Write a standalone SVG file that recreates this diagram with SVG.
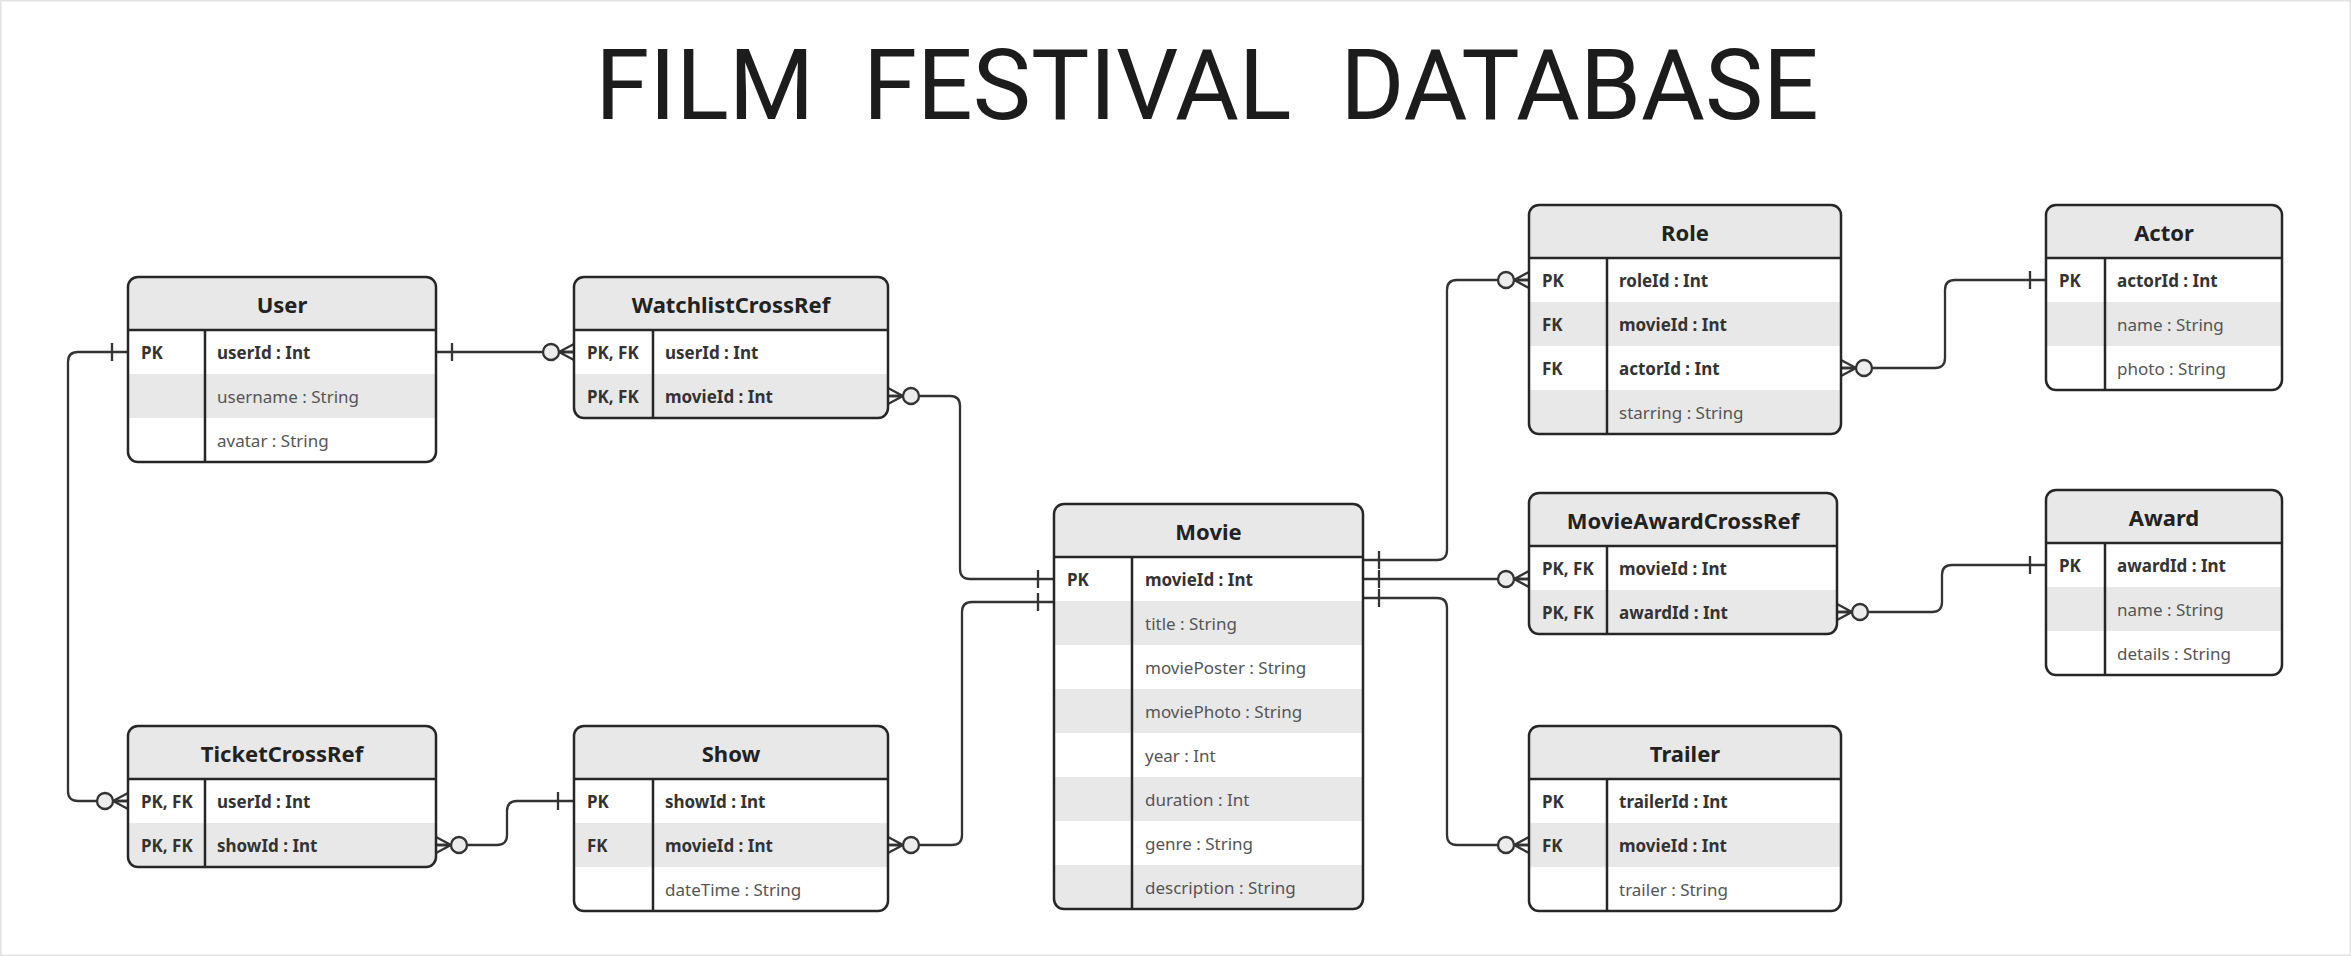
<svg xmlns="http://www.w3.org/2000/svg" xmlns:xlink="http://www.w3.org/1999/xlink" width="2351" height="956" viewBox="0 0 2351 956">
<style>
.bg{fill:#ffffff;stroke:#e2e2e2;stroke-width:1.5}
.body{fill:#ffffff}
.hdr{fill:#e8e8e8}
.alt{fill:#e8e8e8}
.outline{fill:none;stroke:#262626;stroke-width:2.5}
.sep{stroke:#262626;stroke-width:2.5}
.title{font-family:Roboto,"Liberation Sans",sans-serif;font-size:98px;fill:#1c1c1c;text-anchor:middle;white-space:pre}
.ename{font-family:"Noto Sans","Open Sans",sans-serif;font-weight:700;font-size:22px;fill:#222;text-anchor:middle}
.key{font-family:"Noto Sans","Open Sans",sans-serif;font-weight:700;font-size:17px;fill:#333}
.fld{font-family:"Noto Sans","Open Sans",sans-serif;font-weight:400;font-size:17px;fill:#555}
.conn{fill:none;stroke:#333;stroke-width:2.3}
.end{fill:none;stroke:#333;stroke-width:2.3}
.end circle{fill:#ececec}
</style>
<defs>
<g id="zm" class="end"><path d="M-15,0 L0,-8 M-15,0 L0,8 M-15,0 L0,0"/><circle cx="-23" cy="0" r="8"/></g>
<path id="bar" class="end" d="M0,-9 V9"/>
</defs>
<rect class="bg" x="0.75" y="0.75" width="2349.5" height="954.5"/>
<text class="title" x="1207" y="119" xml:space="preserve">FILM  FESTIVAL  DATABASE</text>

<g id="connectors">
<path class="conn" d="M436,352 H574"/>
<path class="conn" d="M128,352 H78 Q68,352 68,362 V791 Q68,801 78,801 H128"/>
<path class="conn" d="M888,396 H950 Q960,396 960,406 V569 Q960,579 970,579 H1054"/>
<path class="conn" d="M888,845 H952 Q962,845 962,835 V612 Q962,602 972,602 H1054"/>
<path class="conn" d="M436,845 H497 Q507,845 507,835 V811 Q507,801 517,801 H574"/>
<path class="conn" d="M1363,560 H1437 Q1447,560 1447,550 V290 Q1447,280 1457,280 H1529"/>
<path class="conn" d="M1363,579 H1529"/>
<path class="conn" d="M1363,598 H1437 Q1447,598 1447,608 V835 Q1447,845 1457,845 H1529"/>
<path class="conn" d="M1841,368 H1935 Q1945,368 1945,358 V290 Q1945,280 1955,280 H2046"/>
<path class="conn" d="M1837,612 H1932 Q1942,612 1942,602 V575 Q1942,565 1952,565 H2046"/>
<use href="#bar" x="452" y="352"/>
<use href="#zm" x="574" y="352"/>
<use href="#bar" x="112" y="352"/>
<use href="#zm" x="128" y="801"/>
<use href="#zm" transform="translate(888,396) scale(-1,1)"/>
<use href="#bar" x="1038" y="579"/>
<use href="#zm" transform="translate(888,845) scale(-1,1)"/>
<use href="#bar" x="1038" y="602"/>
<use href="#zm" transform="translate(436,845) scale(-1,1)"/>
<use href="#bar" x="558" y="801"/>
<use href="#bar" x="1379" y="560"/>
<use href="#bar" x="1379" y="579"/>
<use href="#bar" x="1379" y="598"/>
<use href="#zm" x="1529" y="280"/>
<use href="#zm" x="1529" y="579"/>
<use href="#zm" x="1529" y="845"/>
<use href="#zm" transform="translate(1841,368) scale(-1,1)"/>
<use href="#bar" x="2030" y="280"/>
<use href="#zm" transform="translate(1837,612) scale(-1,1)"/>
<use href="#bar" x="2030" y="565"/>
</g>

<g id="user">
<rect class="body" x="128" y="277" width="308" height="185" rx="10"/>
<path class="hdr" d="M128,330 V287 Q128,277 138,277 H426 Q436,277 436,287 V330 Z"/>
<rect class="alt" x="128" y="374" width="308" height="44"/>
<rect class="outline" x="128" y="277" width="308" height="185" rx="10"/>
<line class="sep" x1="128" y1="330" x2="436" y2="330"/>
<line class="sep" x1="205" y1="330" x2="205" y2="462"/>
<text class="ename" x="282" y="312.5">User</text>
<text class="key" x="141" y="359">PK</text>
<text class="key" x="217" y="359">userId : Int</text>
<text class="fld" x="217" y="403">username : String</text>
<text class="fld" x="217" y="447">avatar : String</text>
</g>

<g id="watchlistcrossref">
<rect class="body" x="574" y="277" width="314" height="141" rx="10"/>
<path class="hdr" d="M574,330 V287 Q574,277 584,277 H878 Q888,277 888,287 V330 Z"/>
<path class="alt" d="M574,374 H888 V408 Q888,418 878,418 H584 Q574,418 574,408 Z"/>
<rect class="outline" x="574" y="277" width="314" height="141" rx="10"/>
<line class="sep" x1="574" y1="330" x2="888" y2="330"/>
<line class="sep" x1="653" y1="330" x2="653" y2="418"/>
<text class="ename" x="731" y="312.5">WatchlistCrossRef</text>
<text class="key" x="587" y="359">PK, FK</text>
<text class="key" x="665" y="359">userId : Int</text>
<text class="key" x="587" y="403">PK, FK</text>
<text class="key" x="665" y="403">movieId : Int</text>
</g>

<g id="ticketcrossref">
<rect class="body" x="128" y="726" width="308" height="141" rx="10"/>
<path class="hdr" d="M128,779 V736 Q128,726 138,726 H426 Q436,726 436,736 V779 Z"/>
<path class="alt" d="M128,823 H436 V857 Q436,867 426,867 H138 Q128,867 128,857 Z"/>
<rect class="outline" x="128" y="726" width="308" height="141" rx="10"/>
<line class="sep" x1="128" y1="779" x2="436" y2="779"/>
<line class="sep" x1="205" y1="779" x2="205" y2="867"/>
<text class="ename" x="282" y="761.5">TicketCrossRef</text>
<text class="key" x="141" y="808">PK, FK</text>
<text class="key" x="217" y="808">userId : Int</text>
<text class="key" x="141" y="852">PK, FK</text>
<text class="key" x="217" y="852">showId : Int</text>
</g>

<g id="show">
<rect class="body" x="574" y="726" width="314" height="185" rx="10"/>
<path class="hdr" d="M574,779 V736 Q574,726 584,726 H878 Q888,726 888,736 V779 Z"/>
<rect class="alt" x="574" y="823" width="314" height="44"/>
<rect class="outline" x="574" y="726" width="314" height="185" rx="10"/>
<line class="sep" x1="574" y1="779" x2="888" y2="779"/>
<line class="sep" x1="653" y1="779" x2="653" y2="911"/>
<text class="ename" x="731" y="761.5">Show</text>
<text class="key" x="587" y="808">PK</text>
<text class="key" x="665" y="808">showId : Int</text>
<text class="key" x="587" y="852">FK</text>
<text class="key" x="665" y="852">movieId : Int</text>
<text class="fld" x="665" y="896">dateTime : String</text>
</g>

<g id="movie">
<rect class="body" x="1054" y="504" width="309" height="405" rx="10"/>
<path class="hdr" d="M1054,557 V514 Q1054,504 1064,504 H1353 Q1363,504 1363,514 V557 Z"/>
<rect class="alt" x="1054" y="601" width="309" height="44"/>
<rect class="alt" x="1054" y="689" width="309" height="44"/>
<rect class="alt" x="1054" y="777" width="309" height="44"/>
<path class="alt" d="M1054,865 H1363 V899 Q1363,909 1353,909 H1064 Q1054,909 1054,899 Z"/>
<rect class="outline" x="1054" y="504" width="309" height="405" rx="10"/>
<line class="sep" x1="1054" y1="557" x2="1363" y2="557"/>
<line class="sep" x1="1132" y1="557" x2="1132" y2="909"/>
<text class="ename" x="1208.5" y="539.5">Movie</text>
<text class="key" x="1067" y="586">PK</text>
<text class="key" x="1145" y="586">movieId : Int</text>
<text class="fld" x="1145" y="630">title : String</text>
<text class="fld" x="1145" y="674">moviePoster : String</text>
<text class="fld" x="1145" y="718">moviePhoto : String</text>
<text class="fld" x="1145" y="762">year : Int</text>
<text class="fld" x="1145" y="806">duration : Int</text>
<text class="fld" x="1145" y="850">genre : String</text>
<text class="fld" x="1145" y="894">description : String</text>
</g>

<g id="role">
<rect class="body" x="1529" y="205" width="312" height="229" rx="10"/>
<path class="hdr" d="M1529,258 V215 Q1529,205 1539,205 H1831 Q1841,205 1841,215 V258 Z"/>
<rect class="alt" x="1529" y="302" width="312" height="44"/>
<path class="alt" d="M1529,390 H1841 V424 Q1841,434 1831,434 H1539 Q1529,434 1529,424 Z"/>
<rect class="outline" x="1529" y="205" width="312" height="229" rx="10"/>
<line class="sep" x1="1529" y1="258" x2="1841" y2="258"/>
<line class="sep" x1="1607" y1="258" x2="1607" y2="434"/>
<text class="ename" x="1685" y="240.5">Role</text>
<text class="key" x="1542" y="287">PK</text>
<text class="key" x="1619" y="287">roleId : Int</text>
<text class="key" x="1542" y="331">FK</text>
<text class="key" x="1619" y="331">movieId : Int</text>
<text class="key" x="1542" y="375">FK</text>
<text class="key" x="1619" y="375">actorId : Int</text>
<text class="fld" x="1619" y="419">starring : String</text>
</g>

<g id="actor">
<rect class="body" x="2046" y="205" width="236" height="185" rx="10"/>
<path class="hdr" d="M2046,258 V215 Q2046,205 2056,205 H2272 Q2282,205 2282,215 V258 Z"/>
<rect class="alt" x="2046" y="302" width="236" height="44"/>
<rect class="outline" x="2046" y="205" width="236" height="185" rx="10"/>
<line class="sep" x1="2046" y1="258" x2="2282" y2="258"/>
<line class="sep" x1="2105" y1="258" x2="2105" y2="390"/>
<text class="ename" x="2164" y="240.5">Actor</text>
<text class="key" x="2059" y="287">PK</text>
<text class="key" x="2117" y="287">actorId : Int</text>
<text class="fld" x="2117" y="331">name : String</text>
<text class="fld" x="2117" y="375">photo : String</text>
</g>

<g id="movieawardcrossref">
<rect class="body" x="1529" y="493" width="308" height="141" rx="10"/>
<path class="hdr" d="M1529,546 V503 Q1529,493 1539,493 H1827 Q1837,493 1837,503 V546 Z"/>
<path class="alt" d="M1529,590 H1837 V624 Q1837,634 1827,634 H1539 Q1529,634 1529,624 Z"/>
<rect class="outline" x="1529" y="493" width="308" height="141" rx="10"/>
<line class="sep" x1="1529" y1="546" x2="1837" y2="546"/>
<line class="sep" x1="1607" y1="546" x2="1607" y2="634"/>
<text class="ename" x="1683" y="528.5">MovieAwardCrossRef</text>
<text class="key" x="1542" y="575">PK, FK</text>
<text class="key" x="1619" y="575">movieId : Int</text>
<text class="key" x="1542" y="619">PK, FK</text>
<text class="key" x="1619" y="619">awardId : Int</text>
</g>

<g id="award">
<rect class="body" x="2046" y="490" width="236" height="185" rx="10"/>
<path class="hdr" d="M2046,543 V500 Q2046,490 2056,490 H2272 Q2282,490 2282,500 V543 Z"/>
<rect class="alt" x="2046" y="587" width="236" height="44"/>
<rect class="outline" x="2046" y="490" width="236" height="185" rx="10"/>
<line class="sep" x1="2046" y1="543" x2="2282" y2="543"/>
<line class="sep" x1="2105" y1="543" x2="2105" y2="675"/>
<text class="ename" x="2164" y="525.5">Award</text>
<text class="key" x="2059" y="572">PK</text>
<text class="key" x="2117" y="572">awardId : Int</text>
<text class="fld" x="2117" y="616">name : String</text>
<text class="fld" x="2117" y="660">details : String</text>
</g>

<g id="trailer">
<rect class="body" x="1529" y="726" width="312" height="185" rx="10"/>
<path class="hdr" d="M1529,779 V736 Q1529,726 1539,726 H1831 Q1841,726 1841,736 V779 Z"/>
<rect class="alt" x="1529" y="823" width="312" height="44"/>
<rect class="outline" x="1529" y="726" width="312" height="185" rx="10"/>
<line class="sep" x1="1529" y1="779" x2="1841" y2="779"/>
<line class="sep" x1="1607" y1="779" x2="1607" y2="911"/>
<text class="ename" x="1685" y="761.5">Trailer</text>
<text class="key" x="1542" y="808">PK</text>
<text class="key" x="1619" y="808">trailerId : Int</text>
<text class="key" x="1542" y="852">FK</text>
<text class="key" x="1619" y="852">movieId : Int</text>
<text class="fld" x="1619" y="896">trailer : String</text>
</g>
</svg>
